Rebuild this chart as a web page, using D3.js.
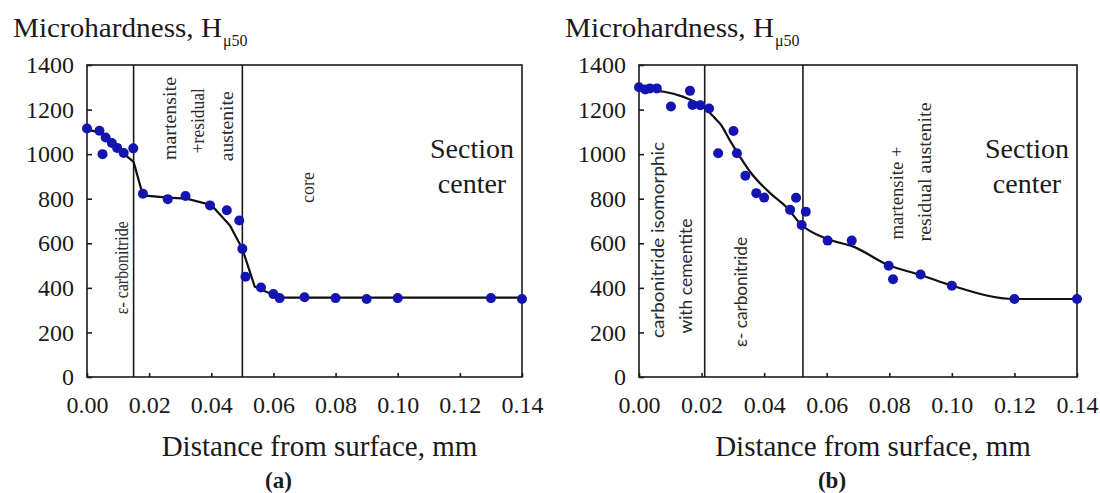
<!DOCTYPE html>
<html><head><meta charset="utf-8">
<script src="https://cdn.jsdelivr.net/npm/d3@7"></script>
<style>body{margin:0;background:#fff}svg{display:block}</style>
</head><body>
<svg id="c" width="1100" height="493"></svg>
<script>
// ---------- data ----------
const xTicks = [0, 0.02, 0.04, 0.06, 0.08, 0.10, 0.12, 0.14];
const yTicks = [0, 200, 400, 600, 800, 1000, 1200, 1400];

// panel (a) measured points
const aX = [0, 0.004, 0.005, 0.006, 0.008, 0.0097, 0.0118, 0.0149, 0.018, 0.026, 0.0317, 0.0396, 0.045, 0.049, 0.050, 0.051, 0.056, 0.060, 0.062, 0.070, 0.080, 0.090, 0.100, 0.130, 0.140];
const aY = [1115, 1105, 1000, 1075, 1050, 1028, 1005, 1026, 822, 798, 812, 770, 748, 702, 575, 450, 402, 372, 354, 358, 354, 350, 354, 354, 350];
// panel (a) fitted line
const aLineX = [0, 0.004, 0.008, 0.012, 0.015, 0.018, 0.026, 0.032, 0.040, 0.046, 0.050, 0.054, 0.062, 0.140];
const aLineY = [1110, 1098, 1050, 1000, 965, 815, 805, 800, 772, 680, 575, 405, 356, 356];

// panel (b) measured points
const bX = [0, 0.002, 0.0035, 0.0057, 0.0102, 0.0163, 0.0171, 0.0196, 0.0224, 0.0253, 0.0302, 0.0313, 0.034, 0.0375, 0.040, 0.0483, 0.0502, 0.0533, 0.052, 0.0603, 0.068, 0.0798, 0.0812, 0.090, 0.100, 0.120, 0.140];
const bY = [1300, 1290, 1295, 1295, 1214, 1284, 1221, 1219, 1205, 1004, 1104, 1004, 903, 825, 805, 750, 804, 742, 682, 612, 612, 499, 439, 460, 410, 350, 350];
// panel (b) fitted line
const bLineX = [0, 0.008, 0.014, 0.0216, 0.0248, 0.026, 0.029, 0.0323, 0.0355, 0.042, 0.047, 0.052, 0.060, 0.0685, 0.080, 0.090, 0.100, 0.120, 0.140];
const bLineY = [1288, 1280, 1258, 1200, 1153, 1135, 1063, 988, 921, 824, 764, 682, 620, 585, 500, 458, 410, 350, 350];

// boundaries between zones (mm)
const aBounds = [0.015, 0.05];
const bBounds = [0.021, 0.0524];

// zone labels: text, x in mm, y in HV (centre or start), length px
const aZones = [
  {t: "ε- carbonitride", x: 0.0112, y: 490, len: 93, anchor: "middle", font: "serif"},
  {t: "martensite", x: 0.0268, y: 1160, len: 83, anchor: "middle", font: "serif"},
  {t: "+residual", x: 0.0358, y: 1150, len: 65, anchor: "middle", font: "serif"},
  {t: "austenite", x: 0.0451, y: 1125, len: 70, anchor: "middle", font: "serif"},
  {t: "core", x: 0.0711, y: 850, len: 31, anchor: "middle", font: "serif"}
];
const bZones = [
  {t: "carbonitride isomorphic", x: 0.0058, y: 175, len: 196, anchor: "start", font: "sans"},
  {t: "with cementite", x: 0.0147, y: 195, len: 115, anchor: "start", font: "sans"},
  {t: "ε- carbonitride", x: 0.0323, y: 135, len: 110, anchor: "start", font: "sans"},
  {t: "martensite +", x: 0.0824, y: 617, len: 93, anchor: "start", font: "serif"},
  {t: "residual austenite", x: 0.0913, y: 608, len: 139, anchor: "start", font: "serif"}
];

const panels = [
  {px: aX, py: aY, lx: aLineX, ly: aLineY, bounds: aBounds, zones: aZones, left: 87, right: 522, tag: "(a)", curve: d3.curveLinear},
  {px: bX, py: bY, lx: bLineX, ly: bLineY, bounds: bBounds, zones: bZones, left: 639, right: 1077, tag: "(b)", curve: d3.curveMonotoneX}
];

// ---------- drawing ----------
const svg = d3.select("#c");
const serif = "'Liberation Serif', 'Times New Roman', serif";
const sans = "Lato, 'Open Sans', sans-serif";
const plotTop = 65, plotBottom = 377;
const ink = "#1a1a1a";

panels.forEach(p => {
  const x = d3.scaleLinear().domain([0, 0.14]).range([p.left, p.right]);
  const y = d3.scaleLinear().domain([0, 1400]).range([plotBottom, plotTop]);
  const g = svg.append("g");

  // frame
  g.append("rect").attr("x", p.left).attr("y", plotTop)
    .attr("width", p.right - p.left).attr("height", plotBottom - plotTop)
    .attr("fill", "none").attr("stroke", ink).attr("stroke-width", 1.6);

  // axes
  const xa = g.append("g").attr("transform", `translate(0,${plotBottom})`)
    .call(d3.axisBottom(x).tickValues(xTicks).tickFormat(d3.format(".2f")).tickSizeInner(-4).tickSizeOuter(0).tickPadding(19));
  const ya = g.append("g").attr("transform", `translate(${p.left},0)`)
    .call(d3.axisLeft(y).tickValues(yTicks).tickFormat(d3.format("d")).tickSizeInner(-5).tickSizeOuter(0).tickPadding(13));
  [xa, ya].forEach(a => {
    a.select(".domain").remove();
    a.selectAll(".tick line").attr("stroke", ink).attr("stroke-width", 1.6);
    a.selectAll(".tick text").attr("fill", ink).style("font-family", serif).style("font-size", "24px");
  });

  // zone boundaries
  g.selectAll(".bound").data(p.bounds).enter().append("line")
    .attr("x1", d => x(d)).attr("x2", d => x(d)).attr("y1", plotTop).attr("y2", plotBottom)
    .attr("stroke", ink).attr("stroke-width", 1.6);

  // zone labels (rotated)
  p.zones.forEach(z => {
    const cx = x(z.x), cy = y(z.y);
    g.append("text")
      .attr("transform", `translate(${cx},${cy}) rotate(-90)`)
      .attr("text-anchor", z.anchor)
      .attr("dominant-baseline", "central")
      .attr("textLength", z.len).attr("lengthAdjust", "spacingAndGlyphs")
      .style("font-family", z.font === "sans" ? sans : serif)
      .style("font-size", "18px").attr("fill", "#2a2a2a")
      .text(z.t);
  });

  // fitted line
  const line = d3.line().x(d => x(d[0])).y(d => y(d[1])).curve(p.curve);
  g.append("path").datum(p.lx.map((v, i) => [v, p.ly[i]]))
    .attr("d", line).attr("fill", "none").attr("stroke", "#111").attr("stroke-width", 2.2);

  // points
  g.selectAll(".pt").data(p.px.map((v, i) => [v, p.py[i]])).enter().append("circle")
    .attr("cx", d => x(d[0])).attr("cy", d => y(d[1])).attr("r", 5)
    .attr("fill", "#1414b0");

  // Section center
  const sc = g.append("text").attr("text-anchor", "middle")
    .style("font-family", serif).style("font-size", "28px").attr("fill", ink);
  sc.append("tspan").attr("x", p.right - 50).attr("y", 158).text("Section");
  sc.append("tspan").attr("x", p.right - 50).attr("y", 193).text("center");

  // y title
  const tx = p.left - 74;
  g.append("text").attr("x", tx).attr("y", 37)
    .style("font-family", serif).style("font-size", "28px").attr("fill", ink)
    .attr("textLength", 209).attr("lengthAdjust", "spacingAndGlyphs")
    .text("Microhardness, H");
  g.append("text").attr("x", tx + 210).attr("y", 46)
    .style("font-family", serif).style("font-size", "16px").attr("fill", ink)
    .text("μ50");

  // x title
  g.append("text").attr("x", (p.left + p.right) / 2 + 15).attr("y", 456)
    .attr("text-anchor", "middle")
    .style("font-family", serif).style("font-size", "29px").attr("fill", ink)
    .text("Distance from surface, mm");

  // panel tag
  g.append("text").attr("x", (p.left + p.right) / 2 - 26).attr("y", 488)
    .attr("text-anchor", "middle")
    .style("font-family", serif).style("font-size", "23px").style("font-weight", "bold").attr("fill", ink)
    .text(p.tag);
});
</script>
</body></html>
